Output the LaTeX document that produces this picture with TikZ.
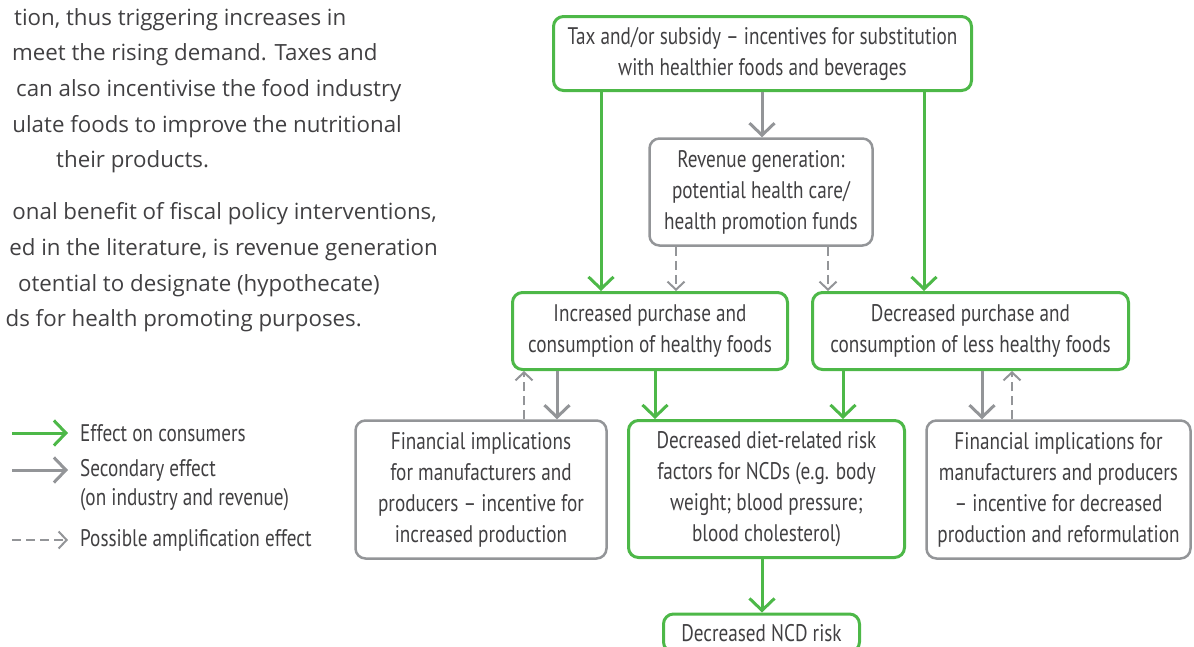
\documentclass[tikz,border=0pt]{standalone}
\usepackage{fontspec}
\setmainfont{Open Sans}
\newfontfamily\cond[FakeStretch=0.8]{PT Sans}
\usetikzlibrary{arrows.meta}
\definecolor{dgreen}{HTML}{4DB848}
\definecolor{lgray}{HTML}{939598}
\definecolor{txt}{HTML}{414042}
\begin{document}
\begin{tikzpicture}[x=1pt,y=-1pt,
 box/.style={draw, rounded corners=10pt, line width=3pt, align=center, text=txt, font=\cond\fontsize{24}{31}\selectfont, inner sep=0pt},
 gbox/.style={box, draw=dgreen},
 ybox/.style={box, draw=lgray, line width=2.5pt},
 garr/.style={draw=dgreen, line width=3pt, -{Straight Barb[length=12pt,width=25pt,line width=3pt]}},
 yarr/.style={draw=lgray, line width=3pt, -{Straight Barb[length=12pt,width=25pt,line width=3pt]}},
 darr/.style={draw=lgray, line width=2pt, dash pattern=on 9pt off 5pt, -{Straight Barb[length=8pt,width=17pt,line width=2pt]}},
 body/.style={text=txt, font=\fontsize{22.3}{36}\selectfont, inner sep=0pt},
 leg/.style={text=txt, font=\cond\fontsize{24}{31}\selectfont, inner sep=0pt, anchor=west}
]
\useasboundingbox (0,0) rectangle (1194,646);
\clip (0,0) rectangle (1194,646);

% left paragraph text
\node[body, anchor=west] (p1) at (14,20) {tion, thus triggering increases in};
\node[body, anchor=west] (p2) at (12,55) {meet the rising demand. Taxes and};
\node[body, anchor=west] (p3) at (16,91) {can also incentivise the food industry};
\node[body, anchor=east] (p4) at (402,127) {ulate foods to improve the nutritional};
\node[body, anchor=west] (p5) at (56,162) {their products.};
\node[body, anchor=east] (p6) at (437,214) {onal benefit of fiscal policy interventions,};
\node[body, anchor=east] (p7) at (438,250) {ed in the literature, is revenue generation};
\node[body, anchor=east] (p8) at (380,286) {otential to designate (hypothecate)};
\node[body, anchor=east] (p9) at (362,321) {ds for health promoting purposes.};

% legend
\coordinate (l1a) at (12,433); \coordinate (l1b) at (68,433);
\coordinate (l2a) at (12,470); \coordinate (l2b) at (68,470);
\coordinate (l3a) at (12,540); \coordinate (l3b) at (68,540);
\draw[garr] (l1a) -- (l1b);
\draw[yarr] (l2a) -- (l2b);
\draw[darr] (l3a) -- (l3b);
\node[leg] (t1) at (80,433) {Effect on consumers};
\node[leg] (t2) at (80,470) {Secondary effect};
\node[leg] (t2b) at (80,500) {(on industry and revenue)};
\node[leg] (t3) at (80,540) {Possible amplification effect};

% boxes
\node[gbox, minimum width=418pt, minimum height=74pt] (top) at (762.5,53.5)
  {Tax and/or subsidy – incentives for substitution\\with healthier foods and beverages};
\node[ybox, minimum width=223pt, minimum height=107pt] (rev) at (761,192)
  {Revenue generation:\\potential health care/\\health promotion funds};
\node[gbox, minimum width=275pt, minimum height=77pt] (inc) at (650,331)
  {Increased purchase and\\consumption of healthy foods};
\node[gbox, minimum width=316pt, minimum height=77pt] (dec) at (970.5,331)
  {Decreased purchase and\\consumption of less healthy foods};
\node[ybox, minimum width=251pt, minimum height=138pt] (finL) at (481,489.5)
  {Financial implications\\for manufacturers and\\producers – incentive for\\increased production};
\node[gbox, minimum width=276pt, minimum height=137pt] (ddr) at (766.5,489)
  {Decreased diet-related risk\\factors for NCDs (e.g. body\\weight; blood pressure;\\blood cholesterol)};
\node[ybox, minimum width=264pt, minimum height=138pt] (finR) at (1058.5,489.5)
  {Financial implications for\\manufacturers and producers\\– incentive for decreased\\production and reformulation};
\node[gbox, minimum width=196pt, minimum height=38pt] (ncd) at (761.5,633)
  {Decreased NCD risk};

% x columns
\coordinate (xa) at (601,0);
\coordinate (xb) at (924,0);
\coordinate (xc) at (762,0);
\coordinate (xd) at (676,0);
\coordinate (xe) at (828,0);
\coordinate (xf) at (524,0);
\coordinate (xg) at (557,0);
\coordinate (xh) at (655,0);
\coordinate (xi) at (843,0);
\coordinate (xj) at (982,0);
\coordinate (xk) at (1012,0);

% connectors
\draw[garr] (top.south -| xa) -- (inc.north -| xa);
\draw[garr] (top.south -| xb) -- (dec.north -| xb);
\draw[yarr] (top.south -| xc) -- (rev.north -| xc);
\draw[darr] (rev.south -| xd) -- (inc.north -| xd);
\draw[darr] (rev.south -| xe) -- (dec.north -| xe);
\draw[darr] (finL.north -| xf) -- (inc.south -| xf);
\draw[yarr] (inc.south -| xg) -- (finL.north -| xg);
\draw[garr] (inc.south -| xh) -- (ddr.north -| xh);
\draw[garr] (dec.south -| xi) -- (ddr.north -| xi);
\draw[yarr] (dec.south -| xj) -- (finR.north -| xj);
\draw[darr] (finR.north -| xk) -- (dec.south -| xk);
\draw[garr] (ddr.south -| xc) -- (ncd.north -| xc);
\end{tikzpicture}
\end{document}
